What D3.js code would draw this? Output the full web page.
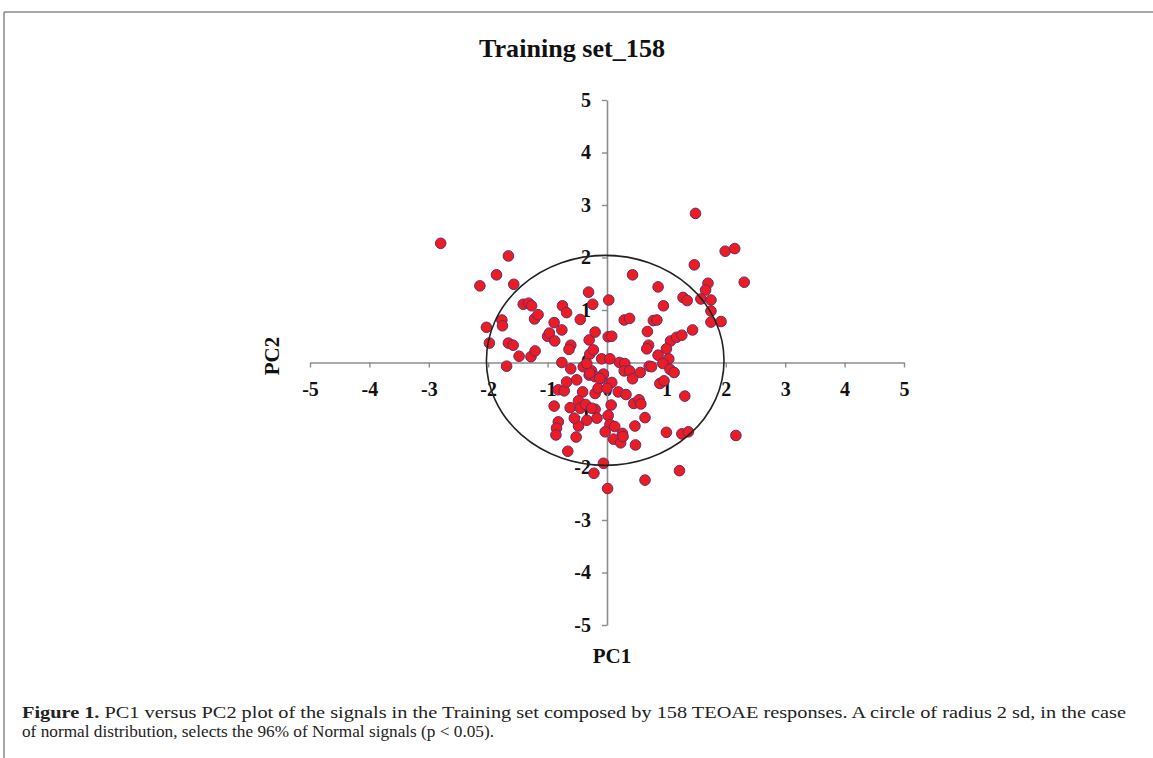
<!DOCTYPE html>
<html><head><meta charset="utf-8">
<script src="https://cdn.jsdelivr.net/npm/d3@7"></script>
<style>
html,body{margin:0;padding:0;background:#fff;}
svg{display:block;}
</style></head>
<body>
<svg id="chart" width="1153" height="758"></svg>
<script>
// ---- data ----
const title = "Training set_158";
const xLabel = "PC1";
const yLabel = "PC2";
const xTicks = [-5,-4,-3,-2,-1,0,1,2,3,4,5];
const yTicks = [-5,-4,-3,-2,-1,0,1,2,3,4,5];
const circleCenter = [-0.03, 0.04];
const circleRadius = 2;
const pc1 = [
 -2.80,-1.66,-1.86,-2.14,-1.57,-1.41,-1.32,-1.27,-1.77,-1.76,-2.03,-1.22,-1.16,-0.75,-0.68,-0.45,-0.31,-0.24,0.03,-0.89,
 -0.76,-1.00,-0.97,-0.88,-1.98,-1.66,-1.58,-1.48,-1.28,-1.21,-1.69,-0.76,-0.61,-0.64,-0.61,-0.30,-0.20,-0.29,-0.23,-0.09,
 0.02,0.08,1.49,1.99,2.15,1.47,2.31,0.43,0.86,1.70,1.66,1.28,1.35,1.58,1.75,1.75,1.75,1.92,0.95,0.29,
 0.38,0.78,0.84,0.68,1.44,1.07,1.17,1.26,0.70,0.67,1.00,0.86,1.04,0.94,1.06,1.13,0.05,0.21,0.30,0.29,
 0.38,0.56,0.43,0.71,0.75,0.89,0.96,1.31,0.08,0.19,0.32,0.45,0.54,0.57,0.07,0.64,0.02,0.05,0.13,-0.03,
 0.11,0.26,0.23,0.47,0.48,1.00,1.26,1.37,2.17,-0.06,-0.22,1.22,0.64,0.01,-0.09,-0.82,-0.72,-0.68,-0.51,-0.40,
 -0.26,-0.30,-0.20,-0.41,-0.20,-0.15,0.00,-0.89,-0.62,-0.48,-0.45,-0.36,-0.20,-0.26,-0.17,-0.34,-0.48,-0.82,-0.85,-0.86,
 -0.52,-0.66,-0.55,-0.29,-0.34,-0.06,0.27,-0.12
];
const pc2 = [
 2.27,2.03,1.67,1.46,1.49,1.11,1.13,1.08,0.81,0.70,0.67,0.83,0.91,1.08,0.95,0.82,1.34,1.11,1.19,0.76,
 0.62,0.50,0.56,0.41,0.37,0.37,0.33,0.12,0.11,0.22,-0.07,0.00,0.33,0.25,-0.12,0.43,0.58,0.16,0.24,0.07,
 0.49,0.50,2.84,2.12,2.17,1.86,1.53,1.67,1.44,1.51,1.38,1.24,1.18,1.21,1.19,0.98,0.77,0.78,1.08,0.81,
 0.84,0.80,0.81,0.59,0.62,0.41,0.48,0.52,0.33,0.26,0.26,0.14,0.07,-0.02,-0.13,-0.19,0.07,0.00,-0.02,-0.16,
 -0.16,-0.19,-0.31,-0.07,-0.08,-0.40,-0.35,-0.64,-0.38,-0.56,-0.61,-0.78,-0.71,-0.79,-0.81,-1.05,-1.01,-1.18,-1.22,-1.32,
 -1.46,-1.35,-1.53,-1.21,-1.57,-1.33,-1.36,-1.32,-1.39,-1.92,-2.11,-2.06,-2.24,-2.40,-0.30,-0.52,-0.54,-0.37,-0.33,-0.08,
 -0.16,-0.24,-0.27,-0.56,-0.59,-0.49,-0.49,-0.83,-0.86,-0.73,-0.87,-0.80,-0.89,-0.87,-1.06,-1.10,-1.21,-1.13,-1.25,-1.38,
 -1.42,-1.69,-1.06,-0.20,-0.02,-0.22,-1.41,-0.30
];
const captionBold = "Figure 1.";
const captionLine1 = " PC1 versus PC2 plot of the signals in the Training set composed by 158 TEOAE responses. A circle of radius 2 sd, in the case";
const captionLine2 = "of normal distribution, selects the 96% of Normal signals (p < 0.05).";

// ---- drawing ----
const svg = d3.select("#chart");
const W = 1153, H = 758;
svg.append("rect").attr("width",W).attr("height",H).attr("fill","#fff");

// frame
svg.append("line").attr("x1",4).attr("x2",W).attr("y1",12).attr("y2",12).attr("stroke","#8a8a8a").attr("stroke-width",1.5);
svg.append("line").attr("x1",4).attr("x2",4).attr("y1",12).attr("y2",H).attr("stroke","#8a8a8a").attr("stroke-width",1.5);

const x = d3.scaleLinear().domain([-5,5]).range([310,904]);
const y = d3.scaleLinear().domain([-5,5]).range([625,100]);
const serif = "'Liberation Serif','Times New Roman',serif";

// title
svg.append("text").attr("x",572).attr("y",57).attr("text-anchor","middle")
  .attr("font-family",serif).attr("font-weight","bold").attr("font-size",25).attr("fill","#111")
  .attr("textLength",186).attr("lengthAdjust","spacingAndGlyphs").text(title);

// axes
const gx = svg.append("g").attr("transform",`translate(0,${y(0)})`)
  .call(d3.axisBottom(x).tickValues(xTicks).tickSize(5).tickSizeOuter(0).tickPadding(14).tickFormat(d3.format("d")));
const gy = svg.append("g").attr("transform",`translate(${x(0)},0)`)
  .call(d3.axisLeft(y).tickValues(yTicks).tickSize(5).tickSizeOuter(0).tickPadding(11).tickFormat(d3.format("d")));
[gx,gy].forEach(g=>{
  g.select(".domain").attr("stroke","#8c8c8c").attr("stroke-width",1.6);
  g.selectAll(".tick line").attr("stroke","#8c8c8c").attr("stroke-width",1.4);
  g.selectAll(".tick text").attr("font-family",serif).attr("font-weight","bold").attr("font-size",20).attr("fill","#111")
    .text(d=> d<0 ? "-"+Math.abs(d) : String(d));
});

// points
const pts = pc1.map((v,i)=>({x:v,y:pc2[i]}));
svg.append("g").selectAll("circle").data(pts).join("circle")
  .attr("cx",d=>x(d.x)).attr("cy",d=>y(d.y)).attr("r",5.3)
  .attr("fill","#ec1c24").attr("stroke","#6a2a66").attr("stroke-width",1);

// 2 sd circle
svg.append("ellipse")
  .attr("cx",x(circleCenter[0])).attr("cy",y(circleCenter[1]))
  .attr("rx",x(circleRadius)-x(0)).attr("ry",y(0)-y(circleRadius))
  .attr("fill","none").attr("stroke","#222").attr("stroke-width",1.6);

// axis titles
svg.append("text").attr("x",612).attr("y",663).attr("text-anchor","middle")
  .attr("font-family",serif).attr("font-weight","bold").attr("font-size",21).attr("fill","#111").text(xLabel);
svg.append("text").attr("transform","translate(279,356) rotate(-90)").attr("text-anchor","middle")
  .attr("font-family",serif).attr("font-weight","bold").attr("font-size",21).attr("fill","#111").text(yLabel);

// caption
const c1 = svg.append("text").attr("x",22).attr("y",718).attr("font-family",serif).attr("font-size",17).attr("fill","#222")
  .attr("textLength",1104).attr("lengthAdjust","spacingAndGlyphs");
c1.append("tspan").attr("font-weight","bold").text(captionBold);
c1.append("tspan").text(captionLine1);
svg.append("text").attr("x",22).attr("y",737).attr("font-family",serif).attr("font-size",17).attr("fill","#222")
  .attr("textLength",472).attr("lengthAdjust","spacingAndGlyphs").text(captionLine2);
</script>
</body></html>
